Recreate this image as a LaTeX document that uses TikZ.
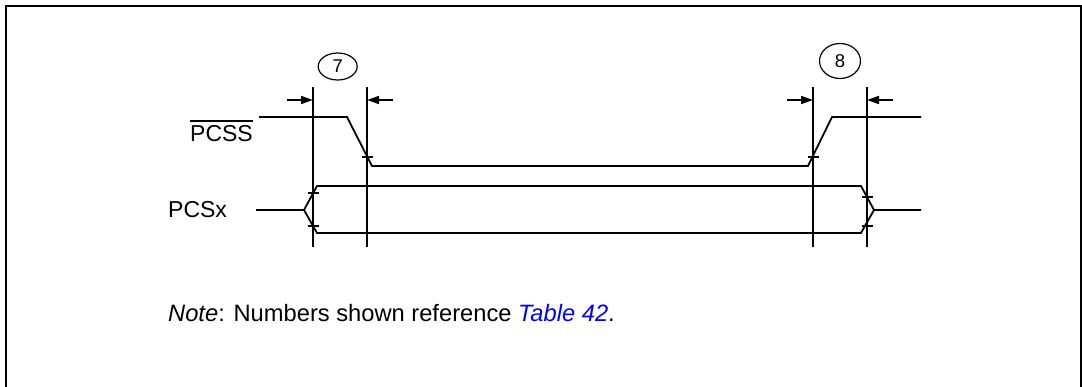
\documentclass[tikz,border=0pt]{standalone}
\usepackage{fontspec}
\setmainfont{Liberation Sans}
\usetikzlibrary{arrows.meta,shapes.geometric}
\begin{document}
\begin{tikzpicture}
[x=1pt,y=-1pt,%
  sigLine/.style={line width=1.8pt},%
  markLine/.style={line width=1.8pt},%
  tickDecorate/.style={line width=1.7pt},%
  arrowDecorate/.style={-{Triangle[length=12pt,width=8pt]},line width=1.7pt},%
  numDecorate/.style={shape=ellipse,draw,line width=1.2pt,inner sep=0pt,font=\fontsize{18.5}{20}\selectfont},%
  labelDecorate/.style={inner sep=0pt,font=\fontsize{23}{26}\selectfont}]
\useasboundingbox (0,0) rectangle (1082,387);
%% frame
\draw[line width=1.8pt] (6,387) -- (6,6) -- (1081,6) -- (1081,387);
%% timing marks
\foreach \name/\x in {t7a/313,t7b/367,t8a/813,t8b/867}{
  \coordinate (\name-top) at (\x,87);
  \coordinate (\name-bot) at (\x,247);
  \draw[markLine] (\name-top) -- (\name-bot);
}
%% numbers
\node (n7) at (337.7,66.5) [numDecorate,minimum width=39pt,minimum height=27pt] {7};
\node (n8) at (840,61) [numDecorate,minimum width=41pt,minimum height=35pt] {8};
%% arrows
\coordinate (a7l) at (287,100);
\coordinate (a7r) at (393,100);
\coordinate (a8l) at (787,100);
\coordinate (a8r) at (893,100);
\draw[arrowDecorate] (a7l) -- (t7a-top |- a7l);
\draw[arrowDecorate] (a7r) -- (t7b-top |- a7r);
\draw[arrowDecorate] (a8l) -- (t8a-top |- a8l);
\draw[arrowDecorate] (a8r) -- (t8b-top |- a8r);
%% PCSS signal
\coordinate (ss0) at (259,117);
\coordinate (ss1) at (347,117);
\coordinate (ss2) at (372,166);
\coordinate (ss3) at (808,166);
\coordinate (ss4) at (832,117);
\coordinate (ss5) at (921,117);
\draw[sigLine] (ss0) -- (ss1) -- (ss2) -- (ss3) -- (ss4) -- (ss5);
%% PCSx signal
\coordinate (sx0) at (256,210);
\coordinate (sx1) at (304,210);
\coordinate (sx2) at (317,186);
\coordinate (sx3) at (861,186);
\coordinate (sx4) at (874,210);
\coordinate (sx5) at (921,210);
\coordinate (sx6) at (317,233);
\coordinate (sx7) at (861,233);
\draw[sigLine] (sx0) -- (sx1) -- (sx2) -- (sx3) -- (sx4) -- (sx5);
\draw[sigLine] (sx1) -- (sx6) -- (sx7) -- (sx4);
%% ticks
\foreach \p in {(367,157),(813,157),(313,193),(313,226),(867,197),(867,226)}
  \draw[tickDecorate] \p ++(-5.5,0) -- ++(11,0);
%% labels
\node (pcss) at (253,141.7) [labelDecorate,anchor=base east] {PCSS};
\draw[line width=1.3pt] ([yshift=4.5pt]pcss.north west) -- ([yshift=4.5pt]pcss.north east);
\node (pcsx) at (168,218) [labelDecorate,anchor=base west] {PCSx};
\node (note) at (168,321.7) [labelDecorate,anchor=base west,font=\fontsize{23.7}{27}\selectfont] {\textit{Note}: Numbers shown reference \textcolor{blue}{\textit{Table 42}}.};
\end{tikzpicture}
\end{document}
